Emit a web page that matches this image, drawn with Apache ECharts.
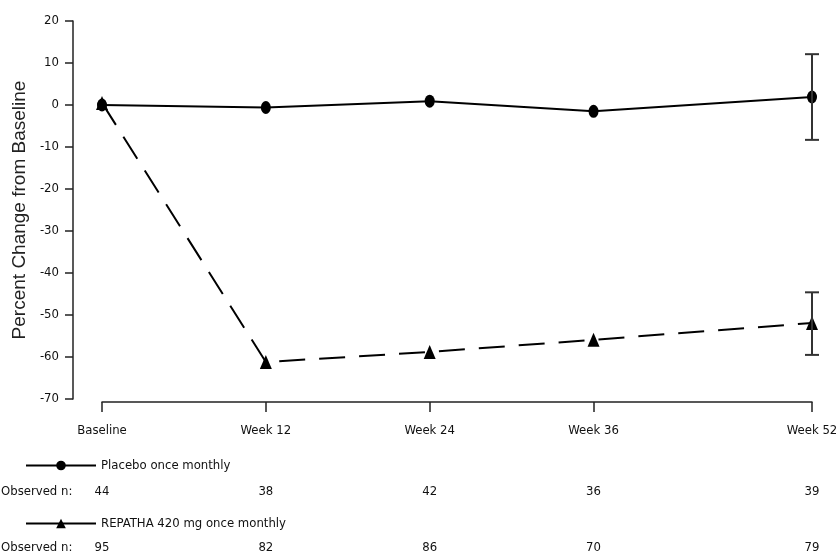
<!DOCTYPE html>
<html lang="en">
<head>
    <meta charset="UTF-8">
    <title>Percent Change from Baseline</title>
    <script src="https://cdn.jsdelivr.net/npm/echarts@6/dist/echarts.min.js"></script>
</head>
<body style="margin: 0">
<div id="chart" style="width: 838px;height: 555px"></div>
</body>

<script>
    // weeks on the x axis and their tick labels
    let weeks = [0, 12, 24, 36, 52]
    let weekLabels = ['Baseline', 'Week 12', 'Week 24', 'Week 36', 'Week 52']

    // mean percent change
    let placebo = [0, -0.6, 0.9, -1.5, 1.9]
    let repatha = [0.5, -61.2, -58.8, -55.9, -51.9]

    // error bars at week 52: [week, low, high]
    let placeboErr = [[52, -8.3, 12.1]]
    let repathaErr = [[52, -59.5, -44.6]]

    // observed n per visit
    let nPlacebo = [44, 38, 42, 36, 39]
    let nRepatha = [95, 82, 86, 70, 79]

    const font = "'Liberation Sans Narrow', 'DejaVu Sans Condensed', sans-serif"

    function pair(ys) {
        return weeks.map((w, i) => [w, ys[i]])
    }

    function nAxis(values, offset) {
        return {
            type: 'value',
            position: 'bottom',
            min: 0,
            max: 52,
            offset: offset,
            axisLine: {show: false, onZero: false},
            axisTick: {show: false},
            splitLine: {show: false},
            axisLabel: {
                customValues: weeks,
                margin: 0,
                fontFamily: font,
                fontSize: 13,
                color: '#111',
                formatter: v => values[weeks.indexOf(v)]
            }
        }
    }

    function errorBar(name, data) {
        return {
            name: name,
            type: 'custom',
            data: data,
            z: 5,
            renderItem: function (params, api) {
                let lo = api.coord([api.value(0), api.value(1)])
                let hi = api.coord([api.value(0), api.value(2)])
                let half = 7
                let style = {stroke: '#333', lineWidth: 2}
                return {
                    type: 'group',
                    children: [
                        {type: 'line', shape: {x1: lo[0], y1: lo[1], x2: hi[0], y2: hi[1]}, style: style},
                        {type: 'line', shape: {x1: lo[0] - half, y1: lo[1], x2: lo[0] + half, y2: lo[1]}, style: style},
                        {type: 'line', shape: {x1: hi[0] - half, y1: hi[1], x2: hi[0] + half, y2: hi[1]}, style: style}
                    ]
                }
            }
        }
    }

    let chart = echarts.init(document.getElementById('chart'));

    let legendText = {fontFamily: font, fontSize: 13, color: '#111'}

    let option = {
        animation: false,
        backgroundColor: '#fff',
        grid: {
            left: 102,
            right: 26,
            top: 21,
            bottom: 156,
            containLabel: false,
            outerBoundsMode: 'none'
        },
        legend: [
            {
                data: ['Placebo once monthly'],
                left: 20,
                top: 454,
                itemWidth: 70,
                itemHeight: 12,
                itemGap: 10,
                lineStyle: {type: 'solid', width: 2},
                textStyle: legendText
            },
            {
                data: ['REPATHA 420 mg once monthly'],
                left: 20,
                top: 512,
                itemWidth: 70,
                itemHeight: 12,
                itemGap: 10,
                lineStyle: {type: 'solid', width: 2},
                textStyle: legendText
            }
        ],
        graphic: [
            {type: 'text', left: 1, top: 485, style: {text: 'Observed n:', font: '13px ' + font, fill: '#111'}},
            {type: 'text', left: 1, top: 541, style: {text: 'Observed n:', font: '13px ' + font, fill: '#111'}}
        ],
        xAxis: [
            {
                type: 'value',
                min: 0,
                max: 52,
                offset: 3,
                axisLine: {onZero: false, lineStyle: {color: '#222', width: 1.5}},
                axisTick: {customValues: weeks, length: 10, lineStyle: {color: '#222', width: 1.5}},
                splitLine: {show: false},
                axisLabel: {
                    customValues: weeks,
                    margin: 22,
                    fontFamily: font,
                    fontSize: 13,
                    color: '#111',
                    formatter: v => weekLabels[weeks.indexOf(v)]
                }
            },
            nAxis(nPlacebo, 86),
            nAxis(nRepatha, 142)
        ],
        yAxis: {
            type: 'value',
            min: -70,
            max: 20,
            interval: 10,
            offset: 29,
            name: 'Percent Change from Baseline',
            nameLocation: 'middle',
            nameGap: 41,
            nameTextStyle: {fontFamily: "'Liberation Sans', Arial, sans-serif", fontSize: 19, color: '#222'},
            axisLine: {show: true, onZero: false, lineStyle: {color: '#222', width: 1.5}},
            axisTick: {show: true, length: 8, lineStyle: {color: '#222', width: 1.5}},
            splitLine: {show: false},
            axisLabel: {margin: 14, fontFamily: font, fontSize: 13, color: '#111'}
        },
        series: [
            {
                name: 'Placebo once monthly',
                type: 'line',
                data: pair(placebo),
                symbol: 'circle',
                symbolSize: [10, 13],
                color: '#000',
                lineStyle: {color: '#000', width: 2},
                itemStyle: {color: '#000'},
                z: 3
            },
            {
                name: 'REPATHA 420 mg once monthly',
                type: 'line',
                data: pair(repatha),
                symbol: 'triangle',
                symbolSize: [12, 14],
                color: '#000',
                lineStyle: {color: '#000', width: 2, type: [26, 14]},
                itemStyle: {color: '#000'},
                z: 4
            },
            errorBar('Placebo once monthly', placeboErr),
            errorBar('REPATHA 420 mg once monthly', repathaErr)
        ]
    };
    chart.setOption(option);
</script>

</html>
